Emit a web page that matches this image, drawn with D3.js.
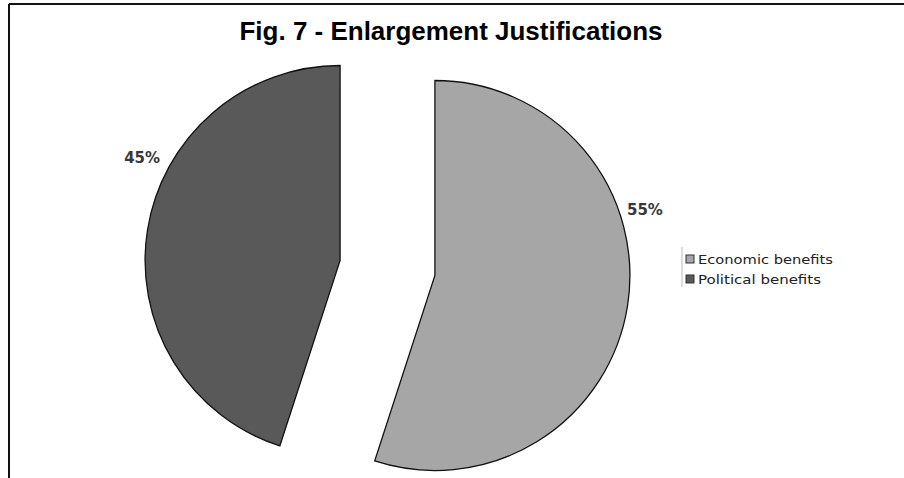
<!DOCTYPE html>
<html>
<head>
<meta charset="utf-8">
<script src="https://cdn.jsdelivr.net/npm/d3@7"></script>
<style>
  html, body { margin: 0; padding: 0; background: #fff; }
  svg { display: block; }
</style>
</head>
<body>
<svg id="chart" width="904" height="478"></svg>
<script>
// Survey answers: why enlargement is justified
const categories = ["Economic benefits", "Political benefits"];
const shares = [55, 45];
const shareLabels = ["55%", "45%"];
const sliceColors = ["#a6a6a6", "#595959"];

const W = 904, H = 478;
const svg = d3.select("#chart");

// outer frame (top and left edges)
svg.append("line").attr("x1", 9).attr("y1", 4).attr("x2", W).attr("y2", 4)
  .attr("stroke", "#111").attr("stroke-width", 2);
svg.append("line").attr("x1", 9).attr("y1", 4).attr("x2", 9).attr("y2", H)
  .attr("stroke", "#111").attr("stroke-width", 2);

// title
svg.append("text")
  .attr("x", 451).attr("y", 40)
  .attr("text-anchor", "middle")
  .attr("font-family", "Liberation Sans, Arial, sans-serif")
  .attr("font-weight", "bold")
  .attr("font-size", 25)
  .attr("fill", "#000")
  .attr("textLength", 423)
  .attr("lengthAdjust", "spacingAndGlyphs")
  .text("Fig. 7 - Enlargement Justifications");

// exploded pie
const cx = 387.5, cy = 268, radius = 195, explode = 48;
const pie = d3.pie().sort(null).startAngle(0).endAngle(2 * Math.PI);
const arcs = pie(shares);
const arc = d3.arc().innerRadius(0).outerRadius(radius);

// label offset (px) from each slice's own centre
const labelOffsets = [[210, -61], [-198, -97]];

const g = svg.append("g").attr("transform", `translate(${cx},${cy})`);
const slices = g.selectAll("g.slice").data(arcs).join("g")
  .attr("class", "slice")
  .attr("transform", d => {
    const mid = (d.startAngle + d.endAngle) / 2;
    return `translate(${explode * Math.sin(mid)},${-explode * Math.cos(mid)})`;
  });

slices.append("path")
  .attr("d", arc)
  .attr("fill", (d, i) => sliceColors[i])
  .attr("stroke", "#111")
  .attr("stroke-width", 1.3)
  .attr("stroke-linejoin", "miter");

slices.append("text")
  .attr("x", (d, i) => labelOffsets[i][0])
  .attr("y", (d, i) => labelOffsets[i][1])
  .attr("text-anchor", "middle")
  .attr("font-family", "DejaVu Sans, Verdana, sans-serif")
  .attr("font-weight", "bold")
  .attr("font-size", 15)
  .attr("fill", "#383838")
  .text((d, i) => shareLabels[i]);

// legend
const lg = svg.append("g").attr("transform", "translate(682,247)");
lg.append("line").attr("x1", 0).attr("y1", 0).attr("x2", 0).attr("y2", 40)
  .attr("stroke", "#bbb").attr("stroke-width", 1);
const items = lg.selectAll("g.item").data(categories).join("g")
  .attr("class", "item")
  .attr("transform", (d, i) => `translate(4,${8 + i * 20})`);
items.append("rect")
  .attr("width", 8).attr("height", 8)
  .attr("fill", (d, i) => sliceColors[i])
  .attr("stroke", "#333").attr("stroke-width", 1);
items.append("text")
  .attr("x", 12).attr("y", 8.5)
  .attr("font-family", "DejaVu Sans, Verdana, sans-serif")
  .attr("font-size", 12)
  .attr("fill", "#222")
  .attr("textLength", (d, i) => i === 0 ? 135 : 123)
  .attr("lengthAdjust", "spacingAndGlyphs")
  .text(d => d);
</script>
</body>
</html>
